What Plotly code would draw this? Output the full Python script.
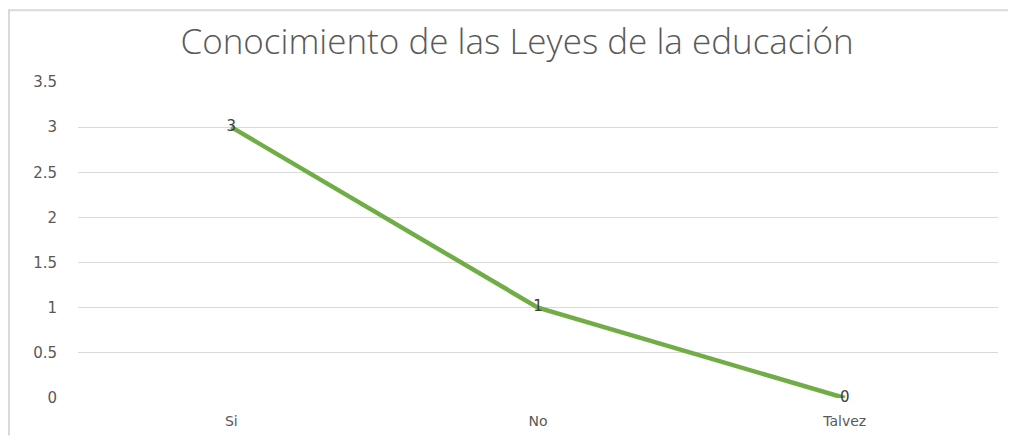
import plotly.graph_objects as go

categories = ["Si", "No", "Talvez"]
values = [3, 1, 0]
y_ticks = [0, 0.5, 1, 1.5, 2, 2.5, 3, 3.5]
y_tick_labels = ["0", "0.5", "1", "1.5", "2", "2.5", "3", "3.5"]

# the page body has an 8px margin, so the figure is sized to fit the window
W, H = 1008, 433
L, R, T, B = 70, 18, 74, 38
pw, ph = W - L - R, H - T - B

def px(x):
    return (x - L) / pw

def py(y):
    return (H - B - y) / ph

fig = go.Figure()
fig.add_trace(go.Scatter(
    x=categories, y=values, mode="lines+text",
    text=[str(v) for v in values], textposition="middle center",
    textfont=dict(family="DejaVu Sans", size=15, color="#404040"),
    line=dict(color="#70AD47", width=4.5),
    cliponaxis=False, hoverinfo="skip", showlegend=False,
))

fig.update_layout(
    width=W, height=H,
    margin=dict(l=L, r=R, t=T, b=B),
    paper_bgcolor="white", plot_bgcolor="white",
    title=dict(text="Conocimiento de las Leyes de la educación",
               x=509 / W, xref="container", xanchor="center",
               y=1 - 34 / H, yref="container", yanchor="middle",
               font=dict(family="Open Sans", size=35, color="#595959", weight=300)),
    xaxis=dict(range=[-0.5, 2.5], showgrid=False, zeroline=False,
               showline=False, ticks="",
               tickfont=dict(family="DejaVu Sans", size=14, color="#595959"),
               ticklabelstandoff=13),
    yaxis=dict(range=[0, 3.5], tickvals=y_ticks, ticktext=y_tick_labels,
               showgrid=True, gridcolor="#D9D9D9", gridwidth=1,
               zeroline=False, showline=False, ticks="",
               tickfont=dict(family="DejaVu Sans", size=15, color="#595959"),
               ticklabelstandoff=20),
    shapes=[
        dict(type="line", xref="paper", yref="paper",
             x0=px(0), x1=px(W), y0=py(1), y1=py(1),
             line=dict(color="#D9D9D9", width=2)),
        dict(type="line", xref="paper", yref="paper",
             x0=px(1), x1=px(1), y0=py(0), y1=py(H),
             line=dict(color="#D9D9D9", width=2)),
    ],
)

fig.write_html("out.html")
